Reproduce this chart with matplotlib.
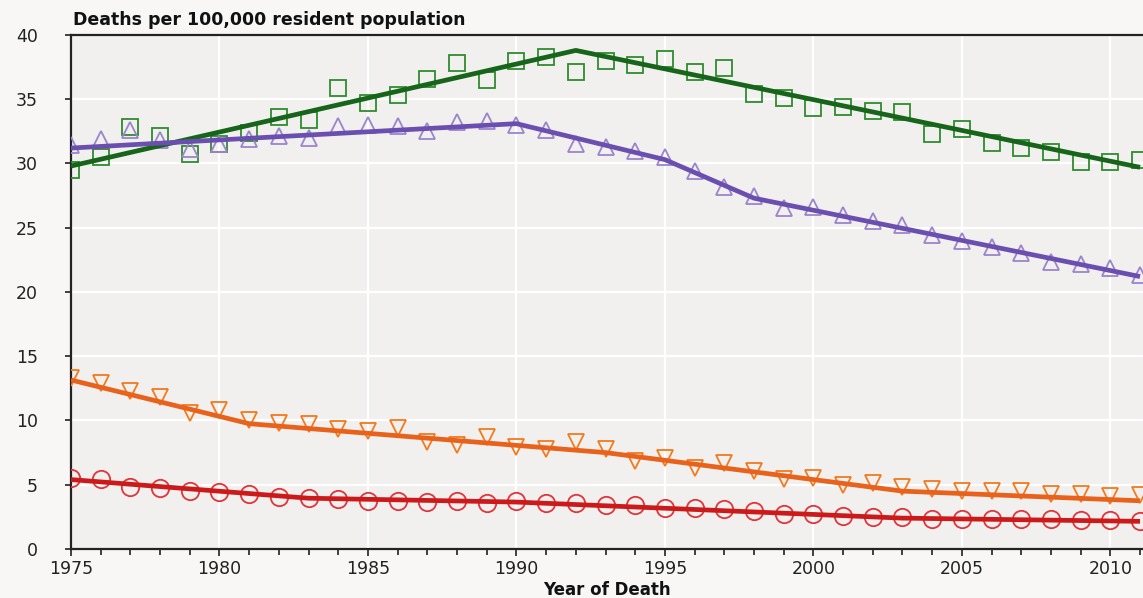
import matplotlib
matplotlib.use("Agg")
import matplotlib.pyplot as plt
from matplotlib.ticker import MultipleLocator

years = list(range(1975, 2012))

# observed rates per 100,000
green_obs = [29.5, 30.5, 32.8, 32.1, 30.7, 31.5, 32.4, 33.6, 33.4, 35.9, 34.7, 35.3,
             36.6, 37.8, 36.5, 38.0, 38.3, 37.1, 38.0, 37.7, 38.1, 37.1, 37.4, 35.4,
             35.1, 34.3, 34.4, 34.1, 34.0, 32.3, 32.7, 31.6, 31.2, 30.9, 30.1, 30.1, 30.3]
purple_obs = [31.4, 31.9, 32.6, 31.8, 31.1, 31.5, 31.9, 32.1, 32.0, 32.9, 33.0, 32.9,
              32.5, 33.2, 33.3, 33.0, 32.6, 31.5, 31.3, 31.0, 30.5, 29.4, 28.2, 27.5,
              26.5, 26.6, 26.0, 25.5, 25.2, 24.4, 24.0, 23.5, 23.0, 22.3, 22.2, 21.9, 21.3]
orange_obs = [13.3, 12.9, 12.3, 11.8, 10.6, 10.8, 10.0, 9.8, 9.7, 9.3, 9.15, 9.4,
              8.3, 8.1, 8.7, 7.9, 7.8, 8.3, 7.8, 6.85, 7.1, 6.3, 6.7, 6.1,
              5.45, 5.55, 5.0, 5.1, 4.8, 4.7, 4.5, 4.5, 4.5, 4.3, 4.3, 4.1, 4.2]
red_obs = [5.5, 5.45, 4.8, 4.75, 4.5, 4.45, 4.3, 4.05, 4.0, 3.85, 3.7, 3.7,
           3.65, 3.7, 3.6, 3.7, 3.55, 3.55, 3.45, 3.45, 3.2, 3.2, 3.1, 2.95,
           2.75, 2.7, 2.6, 2.45, 2.45, 2.35, 2.35, 2.3, 2.35, 2.35, 2.25, 2.25, 2.2]

# joinpoint fits (year, rate at each joint)
green_fit_x = [1975, 1992, 2011]
green_fit_y = [29.8, 38.8, 29.7]
purple_fit_x = [1975, 1990, 1995, 1998, 2011]
purple_fit_y = [31.2, 33.1, 30.3, 27.3, 21.2]
orange_fit_x = [1975, 1981, 1993, 2003, 2011]
orange_fit_y = [13.15, 9.75, 7.5, 4.5, 3.75]
red_fit_x = [1975, 1983, 1990, 2003, 2011]
red_fit_y = [5.4, 3.95, 3.65, 2.4, 2.15]

series = [
    (green_obs, green_fit_x, green_fit_y, "s", "#2e8b2e", "#16651a", 12),
    (purple_obs, purple_fit_x, purple_fit_y, "^", "#9a85cc", "#6a4fb0", 11),
    (orange_obs, orange_fit_x, orange_fit_y, "v", "#f27a1e", "#e8621b", 11),
    (red_obs, red_fit_x, red_fit_y, "o", "#e0353a", "#cc1a1a", 12.5),
]

fig = plt.figure(figsize=(11.43, 5.98), dpi=100, facecolor="#f8f7f6")
ax = fig.add_axes([0.0621, 0.082, 0.9379, 0.8595])
ax.set_facecolor("#f2f0ee")

for obs, fx, fy, mk, mcol, lcol, ms in series:
    ax.plot(years, obs, linestyle="none", marker=mk, markersize=ms,
            markerfacecolor="none", markeredgecolor=mcol, markeredgewidth=1.3, zorder=3)
    ax.plot(fx, fy, color=lcol, linewidth=3.4, zorder=4, solid_capstyle="butt")

ax.set_xlim(1975, 2011.1)
ax.set_ylim(0, 40)
ax.xaxis.set_major_locator(MultipleLocator(5))
ax.xaxis.set_minor_locator(MultipleLocator(1))
ax.yaxis.set_major_locator(MultipleLocator(5))

ax.grid(True, which="major", color="white", linewidth=1.6)
ax.set_axisbelow(True)

for side in ["left", "bottom", "top"]:
    ax.spines[side].set_color("#222222")
    ax.spines[side].set_linewidth(1.6)
ax.spines["right"].set_visible(False)

ax.tick_params(axis="y", which="major", length=4, width=1.2, pad=20,
               labelsize=12.5, colors="#222222")
ax.tick_params(axis="x", which="major", length=5, width=1.2, pad=3,
               labelsize=12.5, colors="#222222")
ax.tick_params(axis="x", which="minor", length=4, width=1.2, colors="#222222")

ax.set_xlabel("Year of Death", fontsize=12, fontweight="bold", color="#111111", labelpad=2)
ax.text(0.002, 1.012, "Deaths per 100,000 resident population", transform=ax.transAxes,
        fontsize=12.5, fontweight="bold", color="#111111", ha="left", va="bottom")

fig.savefig("out.png", dpi=100, facecolor=fig.get_facecolor())
